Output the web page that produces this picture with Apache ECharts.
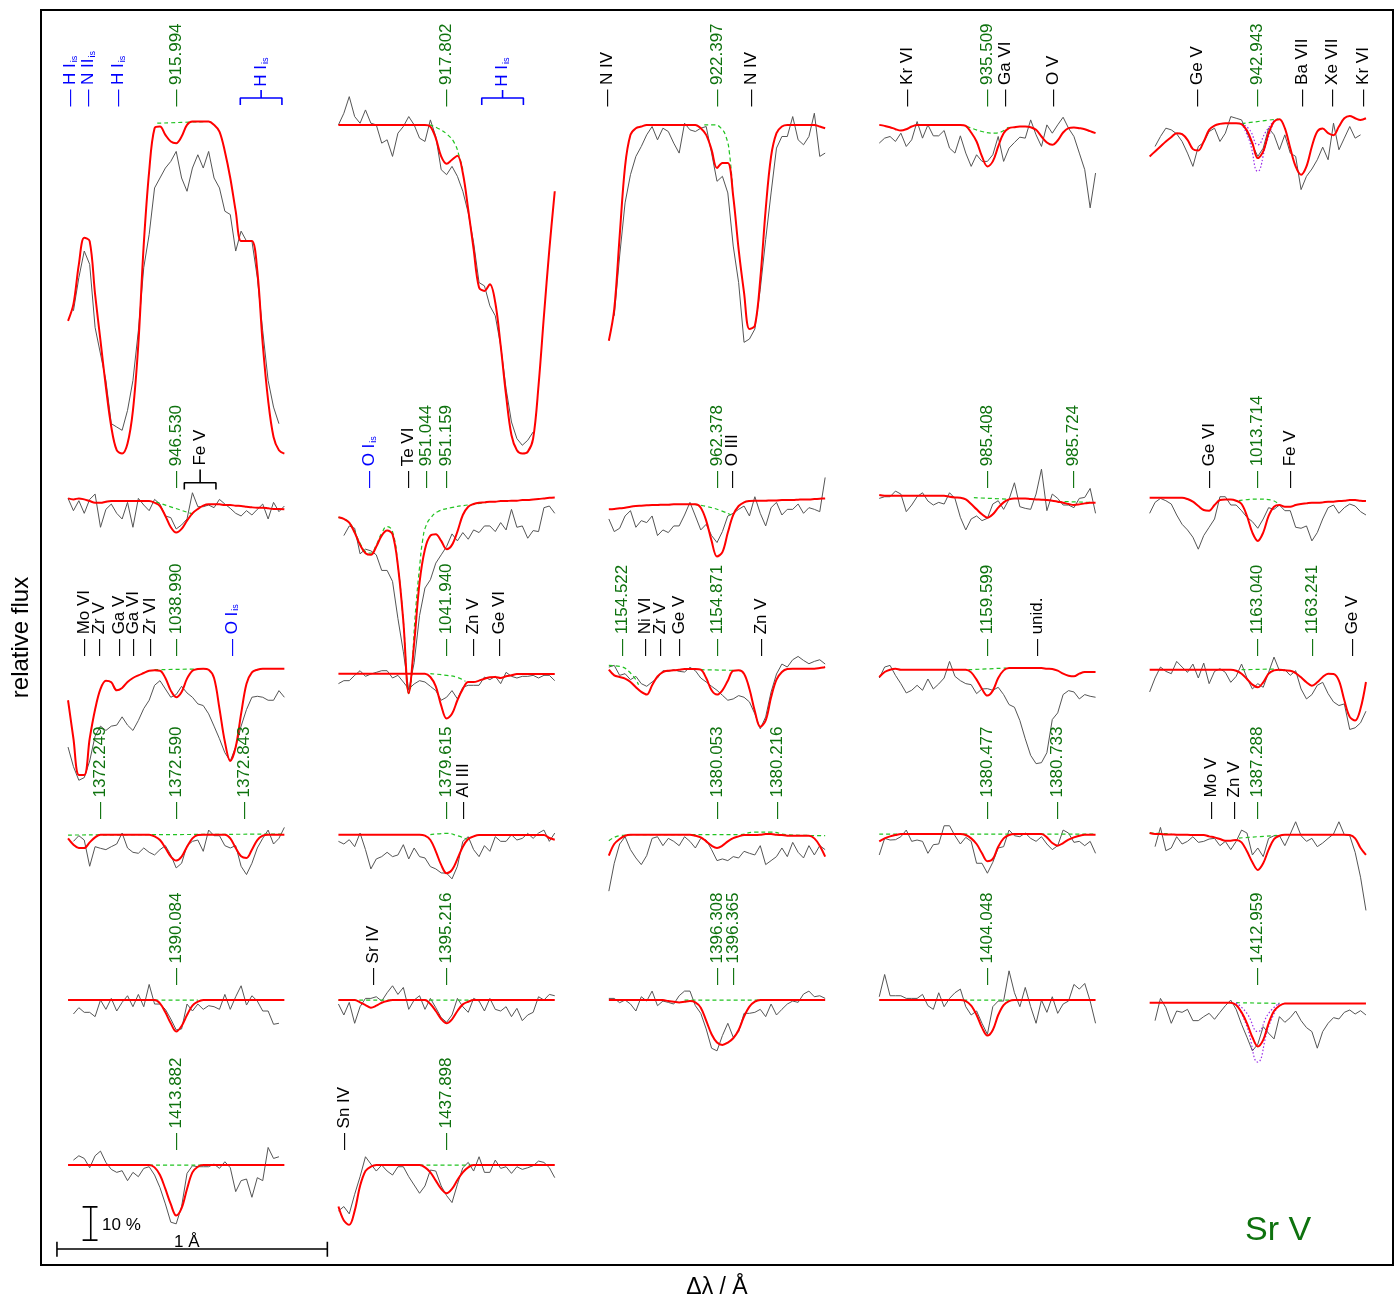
<!DOCTYPE html>
<html>
<head>
<meta charset="utf-8">
<title>Sr V line fits</title>
<script src="https://cdn.jsdelivr.net/npm/echarts@6/dist/echarts.min.js"></script>
<style>
  html, body { margin: 0; padding: 0; background: #fff; }
  #chart { width: 1394px; height: 1298px; }
</style>
</head>
<body>
<div id="chart"></div>
<script>
// every panel is sampled from -0.40 to +0.40 A around its Sr V line
const gridStart = -0.40
const gridSpan = 0.80

// fluxes in % of the continuum
// row 1
const obs915994 = [null, 44, 54, 62, 58, 39, 31, 23, 10, 9, 8, 14, 23, 38, 57, 67, 81, 84, 87, 89, 92, 84, 80, 87, 91, 87, 92, 84, 81, 74, 73, 62, 68, 65, 65, 54, 38, 23, 15, 10, null]
const mod915994 = [41, 46, 58, 66, 65, 49, 35, 21, 9, 2, 1, 4, 14, 34, 64, 86, 99, 99.5, 97, 95, 94.5, 96.5, 100, 101, 101, 101, 101, 100, 98, 92, 84, 74, 65, 65, 65, 56, 34, 17, 6, 2, 1]
const noSr915994 = [[[-0.07, 100.5], [0.11, 101]]]
const lab915994 = [[-0.39, 'H I{s|is}', 'b'], [-0.325, 'N II{s|is}', 'b'], [-0.214, 'H I{s|is}', 'b'], [0, '915.994', 'g']]

const obs917802 = [100, 103.5, 108.5, 102.5, 100.5, 104.5, 100.5, 100, 94.5, 95.5, 90.5, 97.5, 99.5, 102.5, 100, 96, 95, 101.5, 96.5, 86.5, 85, 87.5, 84.5, 80, 73.5, 64.5, 52.5, 51.5, 45.5, 42.5, 33.5, 20.5, 10.5, 5.5, 3.5, 5, 7.5, null, null, null, null]
const mod917802 = [100, 100, 100, 100, 100, 100, 100, 100, 100, 100, 100, 100, 100, 100, 100, 100, 100, 99.5, 96, 90.5, 88.3, 89.5, 90.7, 85.5, 74.5, 62.5, 51, 50, 52, 46.5, 33.5, 18.5, 6.5, 2, 1, 1.5, 5.5, 21.5, 42.5, 62.5, 80]
const noSr917802 = [[[-0.063, 100], [-0.033, 99], [0.004, 97], [0.029, 94.5], [0.047, 90.5], [0.06, 86.5]]]
const lab917802 = [[0, '917.802', 'g']]

const obs922397 = [null, 42.5, 60.5, 76.5, 85, 90.5, 93.5, 97, 99.5, 95.5, 99, 98, 94.5, 91.5, 100.5, 98.5, 98, 99, 99.5, 91.5, 83, 84.5, 79.5, 63.5, 52.5, 34.5, 35.5, 38.5, 50.5, 65.5, 79.5, 93, 96.5, 96.5, 102.5, 95.5, 94, 96.5, 103.5, 90.5, 91.5]
const mod922397 = [35, 44.5, 66.5, 87.5, 97, 99, 99.5, 100, 100, 100, 100, 100, 100, 100, 100, 100, 100, 99, 97, 92.5, 87, 88.5, 88.5, 78.5, 62.5, 49.5, 38.5, 39.5, 53.5, 74.5, 90.5, 97.5, 99.5, 100, 100, 100, 100, 100, 100, 99.5, 99]
const noSr922397 = [[[-0.047, 100], [-0.01, 100], [0.015, 99], [0.033, 96.5], [0.046, 91.5], [0.058, 80]]]
const lab922397 = [[-0.404, 'N IV', 'k'], [0, '922.397', 'g'], [0.126, 'N IV', 'k']]

const obs935509 = [94.5, 96, 96.5, 95, 97.5, 93.5, 95.5, 101, 96, 100, 96.7, 96.7, 98.3, 93, 91.5, 96.7, 91.5, 87.5, 91, 89, 89, 91, 96.5, 89, 93, 94.7, 96.3, 96, 101.5, 97, 93.5, 100, 97.5, 100, 102.3, 99, 96.5, 91.5, 86.5, 75, 85.5]
const mod935509 = [100, 99.7, 99.3, 98.7, 98.3, 98.7, 99.5, 100, 100, 100, 100, 100, 100, 100, 100, 100, 99.7, 97.7, 95, 90.5, 87.5, 89, 93.5, 97.5, 99, 99.3, 99.5, 99.5, 99.3, 98.5, 96.5, 94.7, 94, 95.3, 97.7, 99, 99.2, 99, 98.7, 98.1, 97.5]
const noSr935509 = [[[-0.076, 99.6], [-0.02, 98], [0.029, 97.5], [0.078, 99.3]]]
const lab935509 = [[-0.298, 'Kr VI', 'k'], [0, '935.509', 'g'], [0.066, 'Ga VI', 'k'], [0.245, 'O V', 'k']]

const obs942943 = [null, 93.5, 96.5, 99, 98.5, 97.3, 95, 91.5, 87.5, 93.5, 94.7, 98, 99, 95, 97.5, 102.5, 102, 101.5, 97.7, 94, 90.5, 93, 99, 97, 92.5, 97, 91.5, 90.5, 80.5, 84.5, 86.7, 89.5, 93.3, 89.5, 100.5, 92.5, 96, 99.5, 96, 97, null]
const mod942943 = [90.5, 92, 93.5, 95, 96.3, 97.5, 97.2, 95.5, 92.7, 92.3, 95, 98.5, 99.8, 100.3, 100.5, 100.5, 100.5, 100.2, 98.3, 94.5, 90, 92, 97.5, 101, 101.7, 99, 93, 87.5, 85, 87.5, 93.5, 98, 98.9, 97.5, 96.9, 99.5, 102, 102.7, 102, 101.5, 102]
const noSr942943 = [[[-0.059, 100.4], [0.076, 101.8]]]
const alt942943 = [[[-0.06, 100.4], [-0.03, 98.5], [0, 94], [0.03, 98], [0.06, 101.3]], [[-0.06, 100.4], [-0.03, 95], [0, 86], [0.03, 94], [0.06, 101.3]]]
const lab942943 = [[-0.222, 'Ge V', 'k'], [0, '942.943', 'g'], [0.163, 'Ba VII', 'k'], [0.276, 'Xe VII', 'k'], [0.39, 'Kr VI', 'k']]

// row 2
const obs946530 = [100.5, 96.8, 99.8, 96, 100.2, 101.8, 91.8, 97.2, 98.8, 96, 94.3, 99.3, 91.8, 100.5, 98.5, 96.8, 100.2, 98.8, 95.2, 94.7, 91.3, 92.5, 94.3, 102.2, 98, 98, 98.5, 97.7, 100.2, 98.8, 97.5, 96, 95.2, 96.8, 95.5, 97.2, 98.8, 94.3, 99.3, 96.5, 98.2]
const mod946530 = [100.5, 100.2, 100.5, 100.2, 99.7, 99.2, 99.2, 99.5, 99.7, 99.7, 99.7, 99.7, 99.7, 99.7, 99.7, 99.7, 99.2, 98.2, 95.2, 91.8, 90.2, 91.3, 93.8, 96, 97.3, 98.3, 98.7, 98.7, 98.7, 98.5, 98.5, 98.3, 98.2, 98, 97.8, 97.7, 97.7, 97.5, 97.3, 97.3, 97.2]
const noSr946530 = [[[-0.075, 99.4], [0.065, 95.7]]]
const lab946530 = [[0, '946.530', 'g']]

const obs951159 = [null, 89.3, 92.2, 91.5, 83.8, 85.2, 84.7, 83.5, 78.8, 78.8, 75.5, 64.3, 54.3, 42.7, 51, 65.2, 73.5, 76, 81, 83.5, 86, 89.8, 87.7, 90.2, 88.2, 91, 90.2, 92.2, 92.2, 90.5, 93.2, 91, 97.2, 91.8, 92.2, 88.5, 90.8, 90.5, 97.7, 98.2, 96]
const mod951159 = [94.8, 94.3, 93.2, 90.2, 86.5, 84, 83.5, 86, 89.3, 90.8, 89.7, 80.2, 63.5, 41.8, 56.8, 75.2, 85.2, 89.3, 89.7, 87.7, 85.2, 86.5, 90.5, 95.5, 98, 98.8, 99.2, 99.3, 99.5, 99.5, 99.7, 99.7, 99.8, 99.8, 100, 100, 100.2, 100.3, 100.5, 100.7, 100.8]
const noSr951159 = [[[-0.4, 94.8], [-0.36, 93.2], [-0.32, 87], [-0.3, 84.5], [-0.28, 84], [-0.26, 86.5], [-0.24, 90], [-0.22, 92], [-0.2, 90.5], [-0.18, 80.2], [-0.16, 63.5], [-0.14, 41.8], [-0.113, 68.5], [-0.1, 79.8], [-0.088, 88.2], [-0.076, 92.3], [-0.057, 94.8], [-0.033, 96.5], [0.017, 97.7], [0.078, 98.5], [0.15, 99.3]]]
const lab951159 = [[-0.285, 'O I{s|is}', 'b'], [-0.14, 'Te VI', 'k'], [-0.074, '951.044', 'g'], [0, '951.159', 'g']]

const obs962378 = [94.3, 90.5, 91.5, 95.2, 96.8, 91.8, 93.8, 93.2, 95.2, 89.3, 91, 90.2, 92.2, 92.2, 95.5, 99.3, 95.2, 91, 92.7, 89.3, 87.2, 90.5, 95.2, 96, 97.2, 98.2, 95.2, 101, 96, 92.2, 97.7, 99.3, 95.5, 97.2, 97.2, 98.8, 96, 97.7, 97.2, 96.5, 106.8]
const mod962378 = [97.2, 97.3, 97.5, 97.7, 98, 98.2, 98.3, 98.4, 98.5, 98.5, 98.6, 98.6, 98.7, 98.7, 98.7, 98.7, 98.7, 97.7, 93.8, 87.7, 83, 84.3, 90.2, 95.5, 98.2, 99.3, 99.7, 99.8, 99.8, 99.8, 99.9, 99.9, 100, 100, 100, 100.1, 100.2, 100.2, 100.3, 100.4, 100.5]
const noSr962378 = [[[-0.084, 98.7], [-0.035, 98], [0.015, 96.8], [0.052, 95.5]]]
const lab962378 = [[0, '962.378', 'g'], [0.058, 'O III', 'k']]

const obs985408 = [100.5, 101, 101, 102.7, 101.8, 96.5, 98.5, 101, 102.2, 99.7, 98.5, 99.3, 98.8, 102.2, 100.5, 94.8, 91, 94.3, 95.2, 93.8, 94.5, 98.8, 99.8, 97.2, 100.2, 105.2, 98, 97.5, 97.2, 101.8, 109.3, 96.8, 101.8, 100.5, 98.5, 98.5, 97.7, 100.5, 100.8, 103.5, 96]
const mod985408 = [101.5, 101.3, 101.3, 101.3, 101.3, 101.3, 101.3, 101.3, 101.3, 101.3, 101.3, 101.3, 101.3, 101, 100.8, 100.7, 100.2, 98.8, 97.2, 95.7, 94.7, 95.7, 97.7, 99.3, 100.2, 100.5, 100.5, 100.5, 100.3, 100.2, 100.1, 100, 99.8, 99.5, 99.2, 98.8, 98.5, 98.7, 99, 99.2, 99.2]
const noSr985408 = [[[-0.05, 100.7], [0.07, 100.3]], [[0.26, 99.6], [0.38, 99.3]]]
const lab985408 = [[0, '985.408', 'g'], [0.318, '985.724', 'g']]

const obs1013714 = [96, 99.3, 100.5, 99.8, 98.8, 95.5, 92.7, 91, 88.8, 85.2, 89.3, 91.8, 94.3, 101, 101, 98.5, 98.5, 96.8, 94.8, 93.5, 91.5, 94.3, 97.7, 97.2, 98.5, 96.8, 96.8, 91.8, 91.5, 92.2, 87.7, 90.2, 94.3, 97.7, 98.5, 96, 97.7, 98.8, 98.2, 96.5, 95.5]
const mod1013714 = [100.7, 100.7, 100.7, 100.7, 100.7, 100.7, 100.7, 100.3, 99.5, 98.2, 97, 96.8, 98.5, 100, 100.2, 100.2, 99.8, 98.8, 95.2, 90.2, 87.7, 90.2, 95.2, 98, 98.5, 98, 98, 98.5, 98.8, 99, 99.2, 99.2, 99.3, 99.5, 99.5, 99.7, 99.8, 100, 100, 99.8, 99.7]
const noSr1013714 = [[[-0.07, 99.8], [0, 100.3], [0.05, 100], [0.08, 98.5]]]
const lab1013714 = [[-0.18, 'Ge VI', 'k'], [0, '1013.714', 'g'], [0.12, 'Fe V', 'k']]

// row 3
const obs1038990 = [76.2, 70.3, 66.2, 67, 72, 79.5, 82.5, 81.2, 82.5, 82.8, 85.3, 82.8, 81.2, 84.2, 87.8, 90.3, 94.8, 96.2, 93.7, 91.2, 92, 94.5, 92.5, 91.2, 89.2, 88.7, 86.2, 82.5, 78.7, 74.5, 72, 76.2, 82.5, 87.5, 91.2, 91.5, 91.2, 90.3, 90.3, 93.2, 91.2]
const mod1038990 = [90.3, 78.7, 67.8, 67.8, 78.7, 87.5, 93.7, 96.2, 95.7, 93.3, 94, 95.8, 97, 97.8, 98.5, 99.2, 99.3, 99.2, 97, 93.2, 91.2, 92.8, 96.8, 99.2, 99.7, 99.8, 99.5, 97, 87.8, 77.8, 72, 76.2, 86.2, 95.3, 98.7, 99.5, 99.8, 99.8, 99.8, 99.8, 99.8]
const noSr1038990 = [[[-0.08, 99.5], [0.08, 99.7]]]
const lab1038990 = [[-0.34, 'Mo VI', 'k'], [-0.285, 'Zr V', 'k'], [-0.21, 'Ga V', 'k'], [-0.157, 'Ga VI', 'k'], [-0.095, 'Zr VI', 'k'], [0, '1038.990', 'g'], [0.206, 'O I{s|is}', 'b']]

const obs1041940 = [95.3, 96.2, 96.2, 97.8, 99.2, 97.5, 98.2, 98.7, 99.2, 99.2, 97, 97.8, 95.8, 93.7, 95.2, 96.2, 95.8, 94.5, 93.2, 90.3, 91.2, 93.2, 90.7, 94.2, 94.8, 94.8, 94.8, 97.3, 96.5, 97.5, 95.3, 98.7, 97.5, 97, 97.5, 97.5, 97.8, 97, 97.8, 97.8, 96.2]
const mod1041940 = [98.3, 98.3, 98.3, 98.3, 98.3, 98.3, 98.3, 98.3, 98.3, 98.3, 98.3, 98.3, 98.3, 98.3, 98.3, 98.3, 98.3, 97.3, 94.5, 88.7, 84.8, 86.2, 90.3, 93.7, 95.8, 95.8, 96.2, 96.8, 97.2, 97.3, 97, 97.5, 97.8, 98.2, 98.2, 98.2, 98.2, 98.2, 98.2, 98.2, 98.2]
const noSr1041940 = [[[-0.06, 98.3], [0, 97.8], [0.04, 97.2], [0.07, 96]]]
const lab1041940 = [[0, '1041.940', 'g'], [0.1, 'Zn V', 'k'], [0.195, 'Ge VI', 'k']]

const obs1154871 = [100.3, 100.8, 97.8, 98.3, 96.5, 97.5, 95.3, 94.5, 95.8, 97, 99.2, 99, 99.5, 99, 98.8, 100.2, 99.2, 97, 95.8, 94.5, 93.3, 91.8, 90.3, 90.7, 91.7, 91.2, 89.8, 86.2, 81.7, 85.3, 92.8, 98.2, 101.2, 100.3, 102.5, 103.5, 102.3, 101.3, 102, 102.5, 101.2]
const mod1154871 = [99.5, 97.8, 97.3, 96.8, 95.8, 94.2, 92.8, 92, 94.8, 97.5, 98.8, 99.2, 99.3, 99.5, 99.7, 99.7, 99.7, 99.5, 97, 93.3, 92, 93.3, 96.2, 99.2, 99.3, 98.3, 93.7, 87, 82.3, 84.2, 91.2, 96.5, 98.8, 99.7, 99.8, 99.8, 99.8, 99.8, 99.8, 100, 100.3]
const noSr1154871 = [[[-0.4, 100.8], [-0.36, 100.5], [-0.32, 98.5], [-0.29, 95]], [[-0.06, 99.5], [0.07, 99.3]]]
const lab1154871 = [[-0.349, '1154.522', 'g'], [-0.266, 'Ni VI', 'k'], [-0.211, 'Zr V', 'k'], [-0.14, 'Ge V', 'k'], [0, '1154.871', 'g'], [0.163, 'Zn V', 'k']]

const obs1159599 = [97, 100.3, 100.8, 97.8, 95.3, 92.5, 93.3, 94.8, 93.3, 96.7, 93.7, 95.2, 97, 102, 97.5, 96.2, 95.3, 95, 92.3, 93.7, 93.8, 93.3, 94.2, 92, 89, 88.2, 84.2, 78.7, 73.7, 71.2, 71.5, 74.5, 84.5, 86.5, 92, 93.2, 92.8, 90.7, 92, 91.5, 91.2]
const mod1159599 = [97.3, 98.8, 99.5, 99.8, 99.5, 99.5, 99.5, 99.5, 99.5, 99.5, 99.5, 99.5, 99.5, 99.5, 99.5, 99.5, 99.5, 98.7, 96.5, 93.7, 91.7, 93.2, 97, 99.3, 100, 100, 100, 100, 100, 100, 100, 99.8, 99.7, 99.2, 98.3, 97.7, 97.5, 98.3, 98.8, 98.8, 98.8]
const noSr1159599 = [[[-0.07, 99.5], [0.07, 100]]]
const lab1159599 = [[0, '1159.599', 'g'], [0.183, 'unid.', 'k']]

const obs1163040 = [92.8, 97, 100.3, 99, 98.3, 102, 100.3, 98.7, 101.2, 97, 101.5, 95.3, 99, 99.8, 98.7, 95.7, 97.5, 101.2, 97, 93.7, 95.3, 94.2, 98.7, 103.3, 99.2, 99.5, 97.8, 99.2, 93.7, 90.7, 92, 94.8, 95.7, 92.3, 89.8, 88.7, 89.2, 81.5, 82, 83.5, 87]
const mod1163040 = [99.5, 99.5, 99.5, 99.5, 99.5, 99.5, 99.5, 99.5, 99.5, 99.5, 99.5, 99.5, 99.5, 99.5, 99.5, 99.5, 99.2, 98.3, 96.7, 95, 94.2, 95.7, 98.3, 99.3, 99.5, 99.3, 99.2, 98.5, 97.2, 95.7, 94.7, 95.7, 97.3, 98.3, 98.2, 96.2, 90.3, 85.3, 84.2, 87.8, 95.8]
const noSr1163040 = [[[-0.06, 99.5], [0.06, 99.7]]]
const lab1163040 = [[0, '1163.040', 'g'], [0.202, '1163.241', 'g'], [0.348, 'Ge V', 'k']]

// row 4
const obs1372590 = [null, 97.8, 99.5, 98.2, 90.3, 96.2, 95.7, 95.3, 96.2, 97, 100.3, 95.8, 94.5, 94.2, 95.8, 94.5, 93.7, 95.3, 96.5, 93.7, 89.8, 91.2, 96.5, 97.8, 98.2, 94.8, 101.2, 99.5, 99.5, 96.5, 95.8, 96.5, 90.3, 87.8, 91.2, 95.8, 98.7, 101.2, 97, 98.7, 102]
const mod1372590 = [98.7, 96.8, 95.8, 95.8, 97.5, 99, 99.8, 99.8, 99.8, 99.8, 99.8, 99.8, 99.8, 99.8, 99.8, 99.8, 99.3, 98.2, 95.8, 93.2, 92, 93.2, 96.2, 98.7, 99.7, 99.8, 99.8, 99.8, 99.8, 99.8, 98.7, 95.8, 93.3, 92.8, 95.3, 98.2, 99.5, 99.8, 99.8, 99.8, 99.8]
const noSr1372590 = [[[-0.4, 99.7], [0.4, 100]]]
const lab1372590 = [[-0.282, '1372.249', 'g'], [0, '1372.590', 'g'], [0.251, '1372.843', 'g']]

const obs1379615 = [97.8, 97, 98.3, 96.2, 100.3, 95.3, 89.5, 92.5, 93.2, 94.5, 93.2, 93.7, 96.8, 92.5, 95.8, 93.2, 92.8, 90.2, 89.5, 88.3, 88.2, 86.5, 90.3, 97.8, 99.2, 95.3, 93.2, 96.5, 94.8, 99.2, 97.8, 97.8, 99.8, 98.2, 98.7, 100.2, 98.7, 100.3, 101.2, 97.8, 100.3]
const mod1379615 = [99.8, 99.8, 99.8, 99.8, 99.8, 99.8, 99.8, 99.8, 99.8, 99.8, 99.8, 99.8, 99.8, 99.8, 99.8, 99.8, 99.5, 98.2, 94.8, 90.7, 88.2, 89.2, 92.5, 96.2, 98.5, 99.3, 99.7, 99.7, 99.7, 99.7, 99.7, 99.7, 99.7, 99.7, 99.7, 99.7, 99.7, 99.7, 99.7, 98.8, 98.3]
const noSr1379615 = [[[-0.06, 99.8], [0, 100.2], [0.04, 99.5], [0.08, 98.3]]]
const lab1379615 = [[0, '1379.615', 'g'], [0.063, 'Al III', 'k']]

const obs1380053 = [82.8, 91.2, 97, 99.2, 95.3, 92.8, 90.8, 93.5, 98.7, 99.2, 96.5, 98.7, 97.8, 96.5, 99.2, 97.8, 95.8, 98.7, 98.2, 95.3, 92, 92.5, 92, 93.2, 92.8, 94.8, 94.2, 93.7, 96.5, 90.8, 92, 93.2, 95.8, 93.2, 97.5, 94.5, 92.8, 96.5, 93.7, 96.5, 95.3]
const mod1380053 = [93.5, 97, 98.5, 99.5, 99.8, 99.8, 99.8, 99.8, 99.8, 99.8, 99.8, 99.8, 99.8, 99.8, 99.8, 99.8, 99.5, 99, 97.8, 96.5, 95.8, 96.5, 97.8, 98.8, 99.3, 99.7, 99.7, 99.7, 99.8, 100, 100, 99.8, 99.7, 99.5, 99.5, 99.5, 99.5, 99.5, 98.7, 96.5, 93.2]
const noSr1380053 = [[[-0.4, 98], [-0.36, 99.5], [-0.3, 99.8], [0.08, 99.8], [0.14, 100.6], [0.2, 100.6], [0.26, 99.8], [0.4, 99.5]]]
const lab1380053 = [[0, '1380.053', 'g'], [0.224, '1380.216', 'g']]

const obs1380477 = [93.7, 98.7, 98.2, 98.3, 99.2, 101.2, 97.8, 98.2, 97.8, 94.2, 96.8, 97, 102.5, 102.5, 99.5, 97, 99, 97.8, 91.2, 91.2, 88.2, 91.5, 95.8, 96.2, 101.2, 99.5, 99.2, 100.3, 98.7, 97.8, 99.2, 97, 95.3, 96.5, 101.2, 100.3, 97.5, 97.8, 96.5, 97.8, 94.2]
const mod1380477 = [97.8, 98.7, 99.3, 99.7, 100, 100, 100, 100, 100, 100, 100, 100, 100, 100, 100, 100, 99.7, 98.7, 97, 94.2, 91.8, 92.5, 96.2, 98.7, 99.7, 100, 100, 100, 100, 100, 100, 99, 97.3, 96.5, 97.3, 98.3, 99, 99.5, 99.8, 99.8, 99.8]
const noSr1380477 = [[[-0.4, 100], [0.4, 100]]]
const lab1380477 = [[0, '1380.477', 'g'], [0.257, '1380.733', 'g']]

const obs1387288 = [null, 96.2, 102, 95, 95.8, 99.2, 97, 97.8, 99.2, 97.5, 97.8, 98.5, 98.7, 96.5, 97.8, 95.3, 97.8, 101.2, 100.3, 93.7, 95.8, 93.2, 98.7, 99.5, 99.5, 96.5, 100, 103.7, 99.5, 97.8, 98.7, 96.2, 97.3, 98.7, 100, 103.7, 99.8, 99.5, 94.5, 87, 77]
const mod1387288 = [100.3, 100, 100, 99.9, 99.9, 99.8, 99.8, 99.8, 99.7, 99.7, 99.7, 99.3, 99, 98.5, 98, 98, 98.2, 97.5, 94.8, 91.5, 89.2, 91.2, 95.3, 98.5, 99.5, 99.8, 99.8, 99.8, 99.8, 99.8, 99.8, 99.8, 99.8, 99.8, 99.8, 99.8, 99.8, 99.7, 98.7, 95.8, 93.7]
const noSr1387288 = [[[-0.4, 100.3], [-0.32, 100.1]], [[-0.07, 98.8], [0.07, 99.6]]]
const lab1387288 = [[-0.172, 'Mo V', 'k'], [-0.086, 'Zn V', 'k'], [0, '1387.288', 'g']]

// row 5
const obs1390084 = [null, 95.8, 97.7, 96.3, 96.3, 95, 100, 97.2, 100.5, 96.7, 99.3, 101.3, 98, 101.7, 98, 104.7, 98.8, 98.8, 97.2, 94.3, 91, 91.3, 98.8, 96.7, 98.8, 97.2, 98.3, 98, 97.2, 101.7, 97.2, 101, 104.3, 98.5, 101.3, 99.7, 96.7, 96.7, 92.7, 93, null]
const mod1390084 = [100, 100, 100, 100, 100, 100, 100, 100, 100, 100, 100, 100, 100, 100, 100, 100, 100, 99, 96.3, 93, 90.5, 92.2, 95.5, 98.3, 99.5, 100, 100, 100, 100, 100, 100, 100, 100, 100, 100, 100, 100, 100, 100, 100, 100]
const noSr1390084 = [[[-0.08, 100], [0.08, 100]]]
const lab1390084 = [[0, '1390.084', 'g']]

const obs1395216 = [98.8, 95.5, 99.3, 93, 98, 100.5, 100.5, 101, 99.7, 102.2, 104.3, 101.7, 103.8, 97.2, 100, 101.3, 97.2, 100.5, 97.7, 94.7, 93.3, 95.5, 100.5, 98, 96.3, 100.5, 99.7, 96.7, 100.5, 97.2, 96.7, 98, 95, 97.5, 93.8, 95.5, 96.3, 101, 100, 101.7, 101.3]
const mod1395216 = [100, 100, 100, 100, 99.3, 98.5, 97.7, 98.3, 99.2, 99.7, 100, 100, 100, 100, 100, 100, 100, 98.8, 96.7, 94.3, 93, 94.2, 96.7, 98.7, 99.5, 100, 100, 100, 100, 100, 100, 100, 100, 100, 100, 100, 100, 100, 100, 100, 100]
const noSr1395216 = [[[-0.4, 100], [0.4, 100]]]
const lab1395216 = [[-0.27, 'Sr IV', 'k'], [0, '1395.216', 'g']]

const obs1396308 = [100.5, 100.5, 99.2, 100, 98.8, 96.7, 101, 99.7, 102.7, 98.3, 99.7, 99.3, 98.8, 101.3, 102.7, 102.7, 98.3, 96, 91.3, 85.5, 84.7, 89.3, 93, 88.8, 90.5, 96, 96, 96.3, 97.2, 95, 98.8, 95.5, 97.2, 98.8, 99.7, 99.3, 101.8, 102.7, 101, 101.3, 100.5]
const mod1396308 = [100, 100, 100, 100, 100, 100, 100, 100, 100, 100, 100, 99.7, 99.5, 99.3, 99.5, 99.7, 99.3, 97.7, 93.8, 89.7, 87.2, 86.5, 87.2, 88.5, 91, 95, 98, 99.5, 100, 100, 100, 100, 100, 100, 100, 100, 100, 100, 100, 100, 100]
const noSr1396308 = [[[-0.12, 100], [0.16, 100]]]
const lab1396308 = [[0, '1396.308', 'g'], [0.062, '1396.365', 'g']]

const obs1404048 = [101, 107.7, 101.3, 101.3, 101.3, 100.5, 100.5, 100.5, 101.7, 98.3, 97.2, 102.2, 98, 100.5, 102.2, 103.3, 98, 95.5, 96.7, 93, 89.7, 98, 99.7, 99.7, 108.8, 102.2, 98, 103.8, 98, 93, 100, 96.3, 101, 96, 98.8, 99.7, 104.7, 103.3, 105, 99.7, 93]
const mod1404048 = [100, 100, 100, 100, 100, 100, 100, 100, 100, 100, 100, 100, 100, 100, 100, 100, 99.7, 98.3, 95.5, 91.7, 89.3, 91, 95.5, 98.5, 99.7, 100, 100, 100, 100, 100, 100, 100, 100, 100, 100, 100, 100, 100, 100, 100, 100]
const noSr1404048 = [[[-0.4, 100], [0.4, 100]]]
const lab1404048 = [[0, '1404.048', 'g']]

const obs1412959 = [null, 93.8, 100.5, 97.7, 93, 96.7, 96.3, 97.2, 93.8, 93.8, 95, 96, 94.2, 96.3, 98.3, 100, 97.2, 92.7, 88.8, 84.7, 86.7, 92, 90, 88.3, 95, 93.3, 94.7, 96.7, 93.8, 91.7, 90.5, 85.5, 90.5, 93, 94.7, 94.3, 96.3, 97, 95.8, 96.8, 95.5]
const mod1412959 = [99.2, 99.2, 99.2, 99.2, 99.2, 99.2, 99.2, 99.2, 99.2, 99.2, 99.2, 99.2, 99.2, 99.2, 99.2, 99.2, 98.5, 96.3, 93, 88.8, 86, 88, 93, 96.7, 98.3, 99, 99, 99, 99, 99, 99, 99, 99, 99, 99, 99, 99, 99, 99, 99, 99]
const noSr1412959 = [[[-0.08, 99.2], [0.08, 99]]]
const alt1412959 = [[[-0.08, 99.2], [-0.04, 96], [0, 90.5], [0.04, 96], [0.08, 99.1]], [[-0.08, 99.2], [-0.04, 92], [0, 81.3], [0.04, 92], [0.08, 99.1]]]
const lab1412959 = [[0, '1412.959', 'g']]

// row 6
const obs1413882 = [null, 101.5, 102.8, 102, 99.2, 102.8, 104.2, 100.8, 98.7, 97.8, 98.3, 95.3, 97.8, 96.5, 99, 99.5, 97, 93.2, 88.3, 82.8, 82.3, 87.5, 97.5, 99.8, 99.5, 99.5, 99.5, 100.3, 99, 101, 99.2, 92, 95.3, 95.8, 90.3, 96.2, 95.3, 105.3, 102, 102.5, null]
const mod1413882 = [100, 100, 100, 100, 100, 100, 100, 100, 100, 100, 100, 100, 100, 100, 100, 100, 99.3, 97, 92.8, 88.2, 84.8, 87, 92.8, 97.8, 99.5, 100, 100, 100, 100, 100, 100, 100, 100, 100, 100, 100, 100, 100, 100, 100, 100]
const noSr1413882 = [[[-0.1, 100], [0.1, 100]]]
const lab1413882 = [[0, '1413.882', 'g']]

const obs1437898 = [86.2, 87.5, 85.3, 91.2, 96.5, 102.5, 100.3, 98.2, 100, 98.2, 97, 99.5, 99.5, 96.5, 94, 91.5, 93.7, 98.5, 98.2, 93.7, 90.8, 88.7, 94.2, 99.2, 100.8, 98.2, 102.5, 97.8, 97.8, 101.5, 99, 99.5, 97.5, 99.5, 98.7, 99.2, 99.8, 101.2, 100.8, 99.2, 96.2]
const mod1437898 = [87.5, 83.3, 82, 86.2, 93.7, 98.2, 99.5, 100, 100, 100, 100, 100, 100, 100, 100, 100, 99.3, 97.8, 95.3, 92.8, 91.5, 92.8, 95.5, 97.8, 99.3, 100, 100, 100, 100, 100, 100, 100, 100, 100, 100, 100, 100, 100, 100, 100, 100]
const noSr1437898 = [[[-0.1, 100], [0.1, 100]]]
const lab1437898 = [[-0.38, 'Sn IV', 'k'], [0, '1437.898', 'g']]

// interstellar / blend ranges shown as brackets: row, col, from, to, text, ink
const bracketTable = [
  [0, 0, 0.237, 0.391, 'H I{s|is}', 'b'],
  [0, 1, 0.13, 0.284, 'H I{s|is}', 'b'],
  [1, 0, 0.03, 0.147, 'Fe V', 'k']
]

// row, col, observed, model, model without Sr V, labels
const panelTable = [
  [0, 0, obs915994, mod915994, noSr915994, lab915994],
  [0, 1, obs917802, mod917802, noSr917802, lab917802],
  [0, 2, obs922397, mod922397, noSr922397, lab922397],
  [0, 3, obs935509, mod935509, noSr935509, lab935509],
  [0, 4, obs942943, mod942943, noSr942943, lab942943],
  [1, 0, obs946530, mod946530, noSr946530, lab946530],
  [1, 1, obs951159, mod951159, noSr951159, lab951159],
  [1, 2, obs962378, mod962378, noSr962378, lab962378],
  [1, 3, obs985408, mod985408, noSr985408, lab985408],
  [1, 4, obs1013714, mod1013714, noSr1013714, lab1013714],
  [2, 0, obs1038990, mod1038990, noSr1038990, lab1038990],
  [2, 1, obs1041940, mod1041940, noSr1041940, lab1041940],
  [2, 2, obs1154871, mod1154871, noSr1154871, lab1154871],
  [2, 3, obs1159599, mod1159599, noSr1159599, lab1159599],
  [2, 4, obs1163040, mod1163040, noSr1163040, lab1163040],
  [3, 0, obs1372590, mod1372590, noSr1372590, lab1372590],
  [3, 1, obs1379615, mod1379615, noSr1379615, lab1379615],
  [3, 2, obs1380053, mod1380053, noSr1380053, lab1380053],
  [3, 3, obs1380477, mod1380477, noSr1380477, lab1380477],
  [3, 4, obs1387288, mod1387288, noSr1387288, lab1387288],
  [4, 0, obs1390084, mod1390084, noSr1390084, lab1390084],
  [4, 1, obs1395216, mod1395216, noSr1395216, lab1395216],
  [4, 2, obs1396308, mod1396308, noSr1396308, lab1396308],
  [4, 3, obs1404048, mod1404048, noSr1404048, lab1404048],
  [4, 4, obs1412959, mod1412959, noSr1412959, lab1412959],
  [5, 0, obs1413882, mod1413882, noSr1413882, lab1413882],
  [5, 1, obs1437898, mod1437898, noSr1437898, lab1437898]
]
// models with other Sr abundances
const altTable = [
  [0, 4, alt942943],
  [4, 4, alt1412959]
]

// layout: continuum level of each row (axis units) and label lift above it
const rowBase = [3.434, 2.304, 1.798, 1.298, 0.798, 0.301]
const labelLift = [0.055, 0.036, 0.036, 0.045, 0.045, 0.045]
const bracketGeom = { 0: [0.06, 0.081, 0.105, 0.115], 1: [0.032, 0.052, 0.092, 0.104] }
const labelSize = 17

const fontFace = '"Liberation Sans", Arial, Helvetica, sans-serif'
const green = '#0e720e'
const inkOf = { g: green, b: '#0000ff', k: '#000000' }

const greyLines = []
const greenLines = []
const altLines = []
const redLines = []
const inkLines = []
const labelItems = []

const lineOf = (data, color, width, type, smooth, z) => ({
  type: 'line',
  data,
  symbol: 'none',
  smooth,
  silent: true,
  z,
  lineStyle: { color, width, type },
  emphasis: { disabled: true }
})

const sampled = (vals, row, col) => vals
  .map((f, i) => [col + gridStart + i * gridSpan / (vals.length - 1), f == null ? null : rowBase[row] + f / 100 - 1])
  .filter(p => p[1] !== null)

const pairs = (seg, row, col) => seg.map(([dx, f]) => [col + dx, rowBase[row] + f / 100 - 1])

panelTable.forEach(([row, col, obs, mod, noSr, labels]) => {
  greyLines.push(lineOf(sampled(obs, row, col), '#555555', 1, 'solid', false, 2))
  noSr.forEach(seg => greenLines.push(lineOf(pairs(seg, row, col), '#22c322', 1.2, [4, 3], 0.5, 3)))
  redLines.push(lineOf(sampled(mod, row, col), '#ff0000', 2, 'solid', 0.35, 5))
  labels.forEach(([dx, text, ink]) => {
    labelItems.push({
      x: col + dx, y: rowBase[row] + labelLift[row], text: '\u2014 ' + text,
      color: inkOf[ink], rot: Math.PI / 2, align: 'left', vAlign: 'middle', size: labelSize
    })
  })
})

altTable.forEach(([row, col, segs]) => {
  segs.forEach(seg => altLines.push(lineOf(pairs(seg, row, col), '#9b30e8', 1.2, [1.5, 2], 0.5, 4)))
})

bracketTable.forEach(([row, col, x1, x2, text, ink]) => {
  const [lo, mid, hi, txt] = bracketGeom[row]
  const b = rowBase[row]
  const xc = col + (x1 + x2) / 2
  inkLines.push(lineOf([
    [col + x1, b + lo], [col + x1, b + mid], [xc, b + mid], [xc, b + hi],
    [xc, b + mid], [col + x2, b + mid], [col + x2, b + lo]
  ], inkOf[ink], 1.6, 'solid', false, 6))
  labelItems.push({
    x: xc, y: b + txt, text, color: inkOf[ink], rot: Math.PI / 2, align: 'left', vAlign: 'middle', size: labelSize
  })
})

// scale bars: 1 A horizontally and 10 % of the continuum vertically
const barStart = -0.441
const barY = 0.048
const barLength = 1.0
const fluxBarX = -0.316
const fluxBarY = 0.075
const fluxBarLength = 0.10
inkLines.push(lineOf([
  [barStart, barY + 0.022], [barStart, barY - 0.023], [barStart, barY],
  [barStart + barLength, barY], [barStart + barLength, barY + 0.022], [barStart + barLength, barY - 0.023]
], '#000', 1.6, 'solid', false, 6))
inkLines.push(lineOf([
  [fluxBarX - 0.03, fluxBarY + fluxBarLength], [fluxBarX + 0.025, fluxBarY + fluxBarLength], [fluxBarX, fluxBarY + fluxBarLength],
  [fluxBarX, fluxBarY], [fluxBarX - 0.03, fluxBarY], [fluxBarX + 0.025, fluxBarY]
], '#000', 1.6, 'solid', false, 6))
labelItems.push({ x: fluxBarX + 0.042, y: fluxBarY + fluxBarLength / 2 - 0.005, text: '10 %', color: '#000', rot: 0, align: 'left', vAlign: 'middle', size: 17 })
labelItems.push({ x: barStart + barLength * 0.48, y: barY - 0.006, text: '1 \u00c5', color: '#000', rot: 0, align: 'center', vAlign: 'bottom', size: 17 })

const labelSeries = {
  type: 'custom',
  coordinateSystem: 'cartesian2d',
  data: labelItems.map(l => [l.x, l.y]),
  encode: { x: 0, y: 1 },
  silent: true,
  z: 8,
  renderItem: (params, api) => {
    const it = labelItems[params.dataIndex]
    const p = api.coord([api.value(0), api.value(1)])
    return {
      type: 'text',
      x: p[0],
      y: p[1],
      rotation: it.rot,
      style: {
        text: it.text,
        fill: it.color,
        fontSize: it.size,
        fontFamily: fontFace,
        align: it.align,
        verticalAlign: it.vAlign,
        rich: {
          s: { fontSize: 9, fontFamily: fontFace, fill: it.color, verticalAlign: 'bottom', padding: [0, 0, 0, 1] }
        }
      }
    }
  }
}

const hiddenAxis = {
  axisLine: { show: false },
  axisTick: { show: false },
  axisLabel: { show: false },
  splitLine: { show: false }
}

const chart = echarts.init(document.getElementById('chart'), null, { renderer: 'canvas' })
chart.setOption({
  animation: false,
  backgroundColor: '#ffffff',
  grid: {
    left: 41,
    top: 10,
    right: 1,
    bottom: 33,
    outerBoundsMode: 'none',
    show: true,
    borderColor: '#000',
    borderWidth: 2,
    backgroundColor: 'transparent'
  },
  xAxis: {
    type: 'value',
    min: -0.5,
    max: 4.5,
    name: '\u0394\u03bb / \u00c5',
    nameLocation: 'middle',
    nameGap: 11,
    nameTextStyle: { fontSize: 23, color: '#000', fontFamily: fontFace },
    ...hiddenAxis
  },
  yAxis: {
    type: 'value',
    min: 0,
    max: 3.78,
    name: 'relative flux',
    nameLocation: 'middle',
    nameGap: 8,
    nameTextStyle: { fontSize: 24, color: '#000', fontFamily: fontFace },
    ...hiddenAxis
  },
  graphic: [{
    type: 'text',
    left: 1245,
    top: 1214,
    silent: true,
    style: { text: 'Sr V', fontSize: 34, fill: green, fontFamily: fontFace }
  }],
  series: [...greyLines, ...greenLines, ...altLines, ...redLines, ...inkLines, labelSeries]
})
</script>
</body>
</html>
